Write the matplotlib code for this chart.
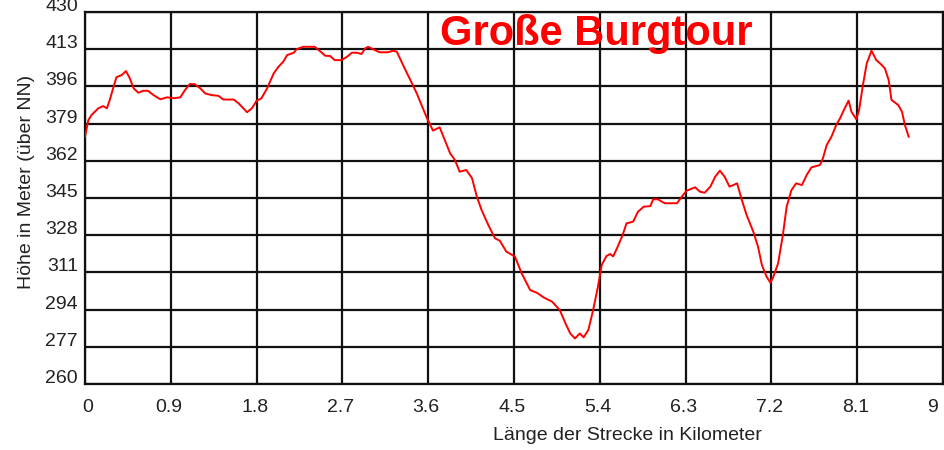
import matplotlib
matplotlib.use("Agg")
import matplotlib.pyplot as plt
import matplotlib.transforms as mtransforms

# Distance along the route (km) and elevation (m above NN)
km = [0.00, 0.035, 0.07, 0.14, 0.19, 0.23, 0.26, 0.30, 0.33, 0.385, 0.43, 0.47, 0.51, 0.56, 0.61,
      0.66, 0.72, 0.79, 0.86, 0.93, 1.00, 1.05, 1.10, 1.15, 1.21, 1.26, 1.33, 1.40, 1.45, 1.56,
      1.61, 1.66, 1.70, 1.75, 1.78, 1.80, 1.85, 1.91, 1.98, 2.03, 2.08, 2.12, 2.19, 2.22, 2.29,
      2.41, 2.47, 2.52, 2.57, 2.62, 2.69, 2.75, 2.80, 2.85, 2.90, 2.94, 2.97, 3.04, 3.09, 3.18,
      3.23, 3.27, 3.32, 3.37, 3.43, 3.48, 3.53, 3.58, 3.65, 3.72, 3.76, 3.83, 3.88, 3.93, 4.00,
      4.06, 4.11, 4.16, 4.23, 4.30, 4.35, 4.42, 4.51, 4.58, 4.67, 4.74, 4.81, 4.90, 4.98, 5.04,
      5.09, 5.14, 5.19, 5.23, 5.28, 5.33, 5.38, 5.42, 5.47, 5.51, 5.54, 5.58, 5.62, 5.64, 5.68,
      5.75, 5.80, 5.86, 5.93, 5.96, 6.01, 6.08, 6.21, 6.26, 6.31, 6.40, 6.45, 6.50, 6.56, 6.61,
      6.66, 6.71, 6.76, 6.80, 6.84, 6.89, 6.94, 7.01, 7.06, 7.10, 7.15, 7.19, 7.22, 7.27, 7.32,
      7.36, 7.41, 7.46, 7.52, 7.57, 7.62, 7.71, 7.74, 7.78, 7.83, 7.88, 7.92, 7.96, 8.01, 8.04,
      8.09, 8.12, 8.16, 8.20, 8.25, 8.30, 8.34, 8.39, 8.43, 8.46, 8.53, 8.57, 8.60, 8.64]
elev = [373.0, 380.6, 383.0, 386.0, 387.0, 386.0, 389.8, 395.9, 400.2, 401.2, 403.0, 399.7, 395.1, 393.1, 394.0,
        394.0, 392.0, 390.1, 391.0, 390.6, 391.0, 394.4, 397.1, 397.0, 395.1, 392.8, 392.0, 391.7, 390.0, 390.0,
        388.3, 386.0, 384.2, 386.0, 388.0, 389.5, 390.5, 395.1, 402.0, 405.0, 407.3, 410.3, 411.4, 413.0, 414.1,
        414.1, 411.9, 410.0, 409.9, 408.0, 408.0, 409.6, 411.4, 411.4, 410.8, 413.4, 414.1, 412.6, 411.6, 411.6,
        412.3, 411.9, 407.3, 402.7, 397.4, 392.8, 387.5, 382.2, 375.8, 377.3, 373.0, 365.4, 362.4, 357.0, 357.8,
        354.0, 345.6, 339.5, 332.7, 326.6, 325.5, 320.5, 318.2, 310.6, 302.9, 301.7, 299.6, 297.6, 293.8, 287.7,
        283.1, 280.8, 283.1, 281.3, 284.7, 293.8, 304.4, 314.4, 318.5, 319.4, 318.3, 322.0, 326.0, 328.1, 333.4,
        334.2, 338.7, 341.0, 341.3, 344.4, 344.4, 342.6, 342.6, 345.6, 348.3, 349.9, 347.9, 347.4, 350.2, 354.7,
        357.5, 354.7, 350.2, 350.9, 351.7, 344.1, 337.2, 329.6, 322.7, 314.4, 309.0, 306.3, 309.0, 315.1, 328.0,
        341.0, 348.6, 351.7, 350.9, 355.5, 359.0, 360.1, 363.1, 369.2, 373.0, 378.4, 381.4, 385.2, 389.5, 384.4,
        381.0, 385.2, 396.6, 406.5, 412.3, 408.0, 406.5, 404.3, 398.9, 389.8, 387.5, 384.4, 378.4, 373.0]

x_ticks = [0, 0.9, 1.8, 2.7, 3.6, 4.5, 5.4, 6.3, 7.2, 8.1, 9]
x_tick_labels = ["0", "0.9", "1.8", "2.7", "3.6", "4.5", "5.4", "6.3", "7.2", "8.1", "9"]
y_ticks = [260, 277, 294, 311, 328, 345, 362, 379, 396, 413, 430]
y_tick_labels = [str(v) for v in y_ticks]

title = "Große Burgtour"
x_label = "Länge der Strecke in Kilometer"
y_label = "Höhe in Meter (über NN)"

W, H = 944, 450
fig = plt.figure(figsize=(W / 100, H / 100), dpi=100)
fig.patch.set_facecolor("white")
ax = fig.add_axes([85 / W, 1 - 384 / H, 858 / W, 372 / H])

ax.plot(km, elev, color="#ff0000", lw=1.4, zorder=3)

ax.set_xlim(0, 9)
ax.set_ylim(260, 430)
ax.set_xticks(x_ticks)
ax.set_xticklabels(x_tick_labels)
ax.set_yticks(y_ticks)
ax.set_yticklabels(y_tick_labels)
ax.grid(True, color="#111111", lw=1.6, zorder=1)
ax.set_axisbelow(True)
for s in ax.spines.values():
    s.set_color("#111111")
    s.set_linewidth(1.6)

font = "Liberation Sans"
ax.tick_params(axis="both", length=0, labelsize=14, labelcolor="#222222")
ax.tick_params(axis="x", pad=11)
ax.tick_params(axis="y", pad=5)
for lab in ax.get_xticklabels() + ax.get_yticklabels():
    lab.set_fontfamily(font)

# shift y labels slightly up, x labels slightly left (like the original)
up = mtransforms.ScaledTranslation(0, 7.5 / 100, fig.dpi_scale_trans)
for lab in ax.get_yticklabels():
    lab.set_transform(lab.get_transform() + up)
for lab in ax.get_xticklabels():
    t = lab.get_text()
    dx = -2
    if t == "0":
        dx = 3
    elif t == "9":
        dx = -10
    lab.set_transform(lab.get_transform() + mtransforms.ScaledTranslation(dx / 100, 0, fig.dpi_scale_trans))

fig.text(627 / W, 1 - 435 / H, x_label, ha="center", va="center",
         fontsize=14, family=font, color="#222222")
fig.text(27 / W, 1 - 182 / H, y_label, ha="center", va="center", rotation=90,
         fontsize=14, family=font, color="#222222")
fig.text(440 / W, 1 - 45 / H, title, ha="left", va="baseline",
         fontsize=30, fontweight="bold", family=font, color="#ff0000", zorder=5)

fig.savefig("out.png", dpi=100)
